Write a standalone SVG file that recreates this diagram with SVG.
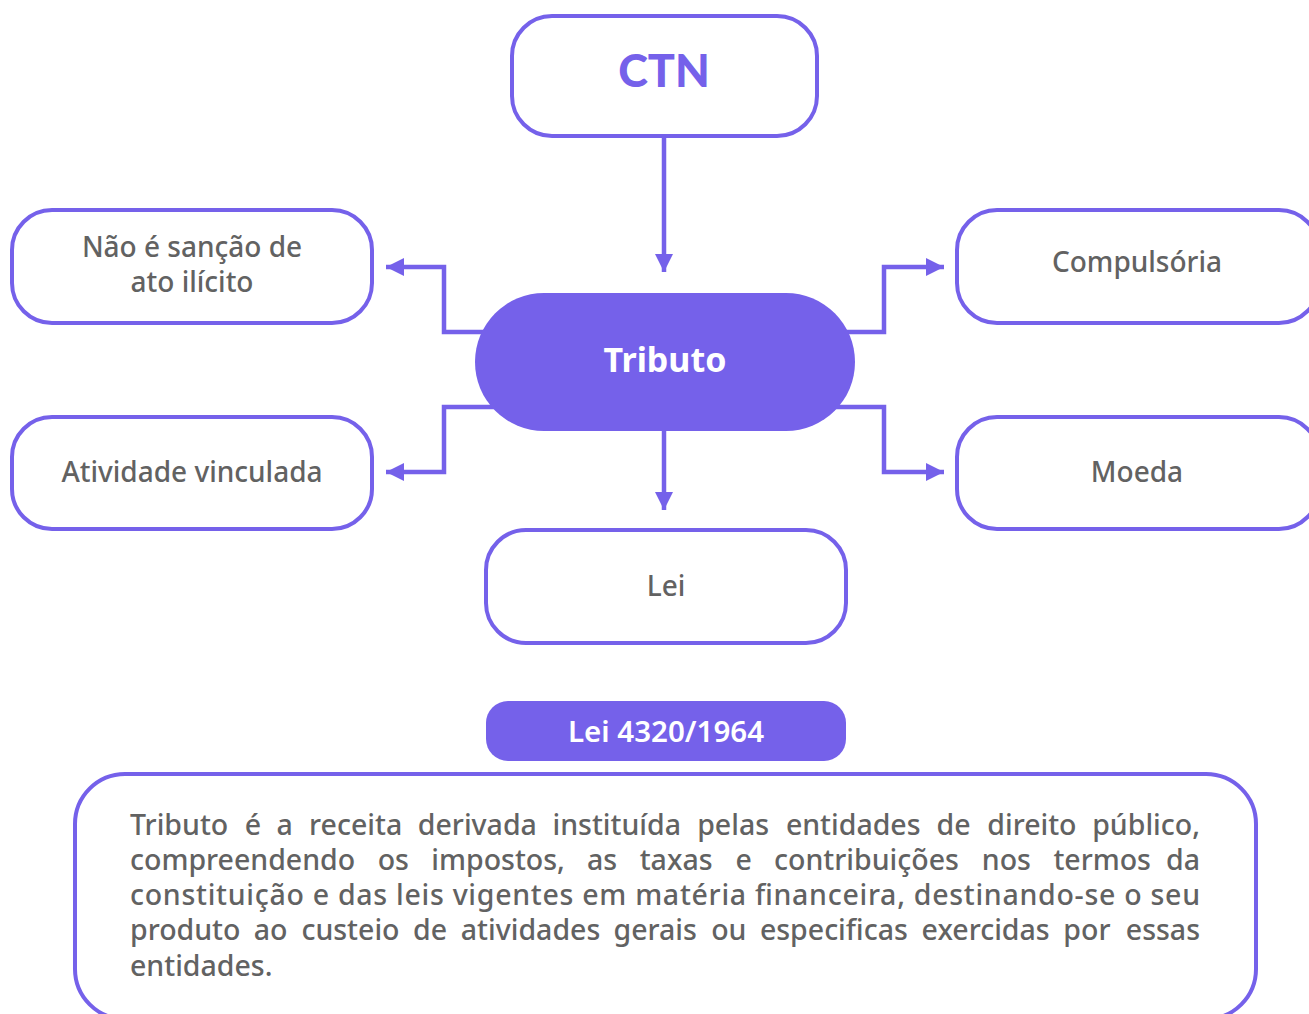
<svg xmlns="http://www.w3.org/2000/svg" width="1309" height="1014" viewBox="0 0 1309 1014">
<defs>
<marker id="ah" markerUnits="userSpaceOnUse" markerWidth="20" markerHeight="20" refX="18" refY="9" orient="auto">
<path d="M0,0 L18,9 L0,18 z" fill="#7561EA"/>
</marker>
<style>
.box{fill:#fff;stroke:#7561EA;stroke-width:4}
.lbl{font-family:"Noto Sans",sans-serif;font-size:28px;font-weight:500;fill:#626262;text-anchor:middle}
.con{fill:none;stroke:#7561EA;stroke-width:4.5;marker-end:url(#ah)}
.para{font-family:"Noto Sans",sans-serif;font-size:28.5px;font-weight:500;fill:#626262}
.r{text-anchor:end}
</style>
</defs>
<rect width="1309" height="1014" fill="#fff"/>
<g id="connectors">
<path class="con" d="M490,332 H444 V267 H386"/>
<path class="con" d="M495,407 H444 V472 H386"/>
<path class="con" d="M840,332 H884 V267 H944"/>
<path class="con" d="M835,407 H884 V472 H944"/>
<path class="con" d="M664,136 V272"/>
<path class="con" d="M664,431 V510"/>
</g>
<g id="ctn">
<rect class="box" x="512" y="16" width="305" height="120" rx="40"/>
<text x="664" y="87" font-family="Lato,'Noto Sans',sans-serif" font-size="45" font-weight="900" fill="#7561EA" text-anchor="middle">CTN</text>
</g>
<g id="tributo">
<rect x="475" y="293" width="380" height="138" rx="69" fill="#7561EA"/>
<text x="665" y="372" font-family="'Noto Sans',sans-serif" font-size="34" font-weight="700" fill="#fff" text-anchor="middle">Tributo</text>
</g>
<g id="nao-e-sancao">
<rect class="box" x="12" y="210" width="360" height="113" rx="40"/>
<text class="lbl" x="192" y="257">Não é sanção de</text>
<text class="lbl" x="192" y="292">ato ilícito</text>
</g>
<g id="atividade-vinculada">
<rect class="box" x="12" y="417" width="360" height="112" rx="40"/>
<text class="lbl" x="192" y="482">Atividade vinculada</text>
</g>
<g id="compulsoria">
<rect class="box" x="957" y="210" width="362" height="113" rx="40"/>
<text class="lbl" x="1137" y="272">Compulsória</text>
</g>
<g id="moeda">
<rect class="box" x="957" y="417" width="362" height="112" rx="40"/>
<text class="lbl" x="1137" y="482">Moeda</text>
</g>
<g id="lei">
<rect class="box" x="486" y="530" width="360" height="113" rx="40"/>
<text class="lbl" x="666" y="596">Lei</text>
</g>
<g id="lei-4320">
<rect x="486" y="701" width="360" height="60" rx="22" fill="#7561EA"/>
<text x="666" y="742" font-family="'Noto Sans',sans-serif" font-size="29.5" font-weight="600" fill="#fff" text-anchor="middle">Lei 4320/1964</text>
</g>
<g id="definicao">
<rect class="box" x="75" y="774" width="1181" height="245" rx="50"/>
<text class="para" y="835"><tspan x="130">Tributo</tspan><tspan x="244.7">é</tspan><tspan x="276.4">a</tspan><tspan x="309.1">receita</tspan><tspan x="417.8">derivada</tspan><tspan x="552.5">instituída</tspan><tspan x="697.2">pelas</tspan><tspan x="785.9">entidades</tspan><tspan x="936.6">de</tspan><tspan x="987.3">direito</tspan></text>
<text class="para r" x="1200" y="835">público,</text>
<text class="para" y="870"><tspan x="130">compreendendo</tspan><tspan x="377.7">os</tspan><tspan x="431.3">impostos,</tspan><tspan x="587">as</tspan><tspan x="639.7">taxas</tspan><tspan x="735.4">e</tspan><tspan x="774.1">contribuições</tspan><tspan x="981.8">nos</tspan><tspan x="1053.4">termos</tspan></text>
<text class="para r" x="1200" y="870">da</text>
<text class="para" x="130" y="905" textLength="1070" lengthAdjust="spacing">constituição e das leis vigentes em matéria financeira, destinando-se o seu</text>
<text class="para" y="940"><tspan x="130">produto</tspan><tspan x="253.7">ao</tspan><tspan x="301.4">custeio</tspan><tspan x="413.1">de</tspan><tspan x="460.8">atividades</tspan><tspan x="613.5">gerais</tspan><tspan x="711.2">ou</tspan><tspan x="759.9">especificas</tspan><tspan x="921.6">exercidas</tspan><tspan x="1063.3">por</tspan></text>
<text class="para r" x="1200" y="940">essas</text>
<text class="para" x="130" y="976">entidades.</text>
</g>
</svg>
